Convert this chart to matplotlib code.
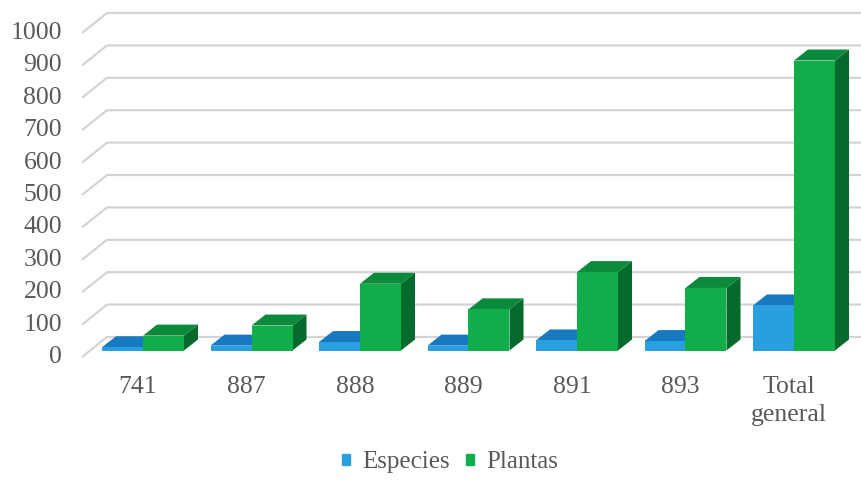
import numpy as np
import matplotlib.pyplot as plt
from matplotlib.patches import Polygon

categories = ['741', '887', '888', '889', '891', '893', 'Total\ngeneral']
especies = [10, 15, 26, 15, 31, 29, 139]
plantas = [46, 77, 206, 127, 242, 193, 895]
yticks = [0, 100, 200, 300, 400, 500, 600, 700, 800, 900, 1000]

c_front = {'Especies': '#2A9FDE', 'Plantas': '#12AD4B'}
c_top = {'Especies': '#1779BF', 'Plantas': '#0C8A3C'}
c_side = {'Especies': '#115C94', 'Plantas': '#056B2C'}
grid_c = '#D4D4D4'
txt_c = '#595959'
fam = 'Liberation Serif'

# pixel scale of the chart (figure is 861x483 at dpi 100)
px_x = 108.5     # px per category
px_y = 0.324     # px per value unit
x0_px, y0_px = 143, 350.5   # where category 0 / value 0 sits

fig = plt.figure(figsize=(8.61, 4.83), dpi=100)
ax = fig.add_axes([0, 0, 1, 1])
ax.set_xlim(-x0_px / px_x, (861 - x0_px) / px_x)
ax.set_ylim((y0_px - 483) / px_y, y0_px / px_y)
ax.axis('off')

# 3d offsets in data units
floor_x = (82 - x0_px) / px_x
wall_x = (107 - x0_px) / px_x
floor_dy = -(357 - y0_px) / px_y
wall_dy = (y0_px - 337) / px_y
bar_w = 41 / px_x
bdx = 14 / px_x
bdy = 11 / px_y
x_right = ax.get_xlim()[1]

for v in yticks:
    ax.plot([floor_x, wall_x, x_right], [v + floor_dy, v + wall_dy, v + wall_dy],
            color=grid_c, lw=1.6, solid_capstyle='butt', zorder=1)
    ax.text(floor_x - 20 / px_x, v + floor_dy, str(v), ha='right', va='center',
            fontsize=18.5, color=txt_c, family=fam)


def bar3d(x0, v, name, z):
    x1 = x0 + bar_w
    side = Polygon([(x1, 0), (x1 + bdx, bdy), (x1 + bdx, v + bdy), (x1, v)],
                   closed=True, fc=c_side[name], ec='none', zorder=z)
    top = Polygon([(x0, v), (x0 + bdx, v + bdy), (x1 + bdx, v + bdy), (x1, v)],
                  closed=True, fc=c_top[name], ec='none', zorder=z)
    ax.add_patch(side)
    ax.add_patch(top)
    ax.bar(x0, v, width=bar_w, bottom=0, align='edge', color=c_front[name],
           zorder=z + 0.5)


xs = np.arange(len(categories))
for i in xs:
    bar3d(i - bar_w, especies[i], 'Especies', 2 + i * 2)
    bar3d(i, plantas[i], 'Plantas', 3 + i * 2)

line_px = 28
for i, lab in enumerate(categories):
    lines = lab.split('\n')
    for k, part in enumerate(lines):
        ax.text(i - 5 / px_x, (y0_px - 393 - k * line_px) / px_y, part,
                ha='center', va='baseline', fontsize=18.5, color=txt_c,
                family=fam)

h1 = plt.Rectangle((0, 0), 1, 1, color=c_front['Especies'])
h2 = plt.Rectangle((0, 0), 1, 1, color=c_front['Plantas'])
fig.legend([h1, h2], ['Especies', 'Plantas'], loc='center',
           bbox_to_anchor=(450 / 861, 1 - 462 / 483), ncol=2, frameon=False,
           prop={'family': fam, 'size': 18}, labelcolor=txt_c,
           handlelength=0.3, handleheight=0.3, handletextpad=0.5,
           columnspacing=0.65)

fig.savefig('out.png', dpi=100)
